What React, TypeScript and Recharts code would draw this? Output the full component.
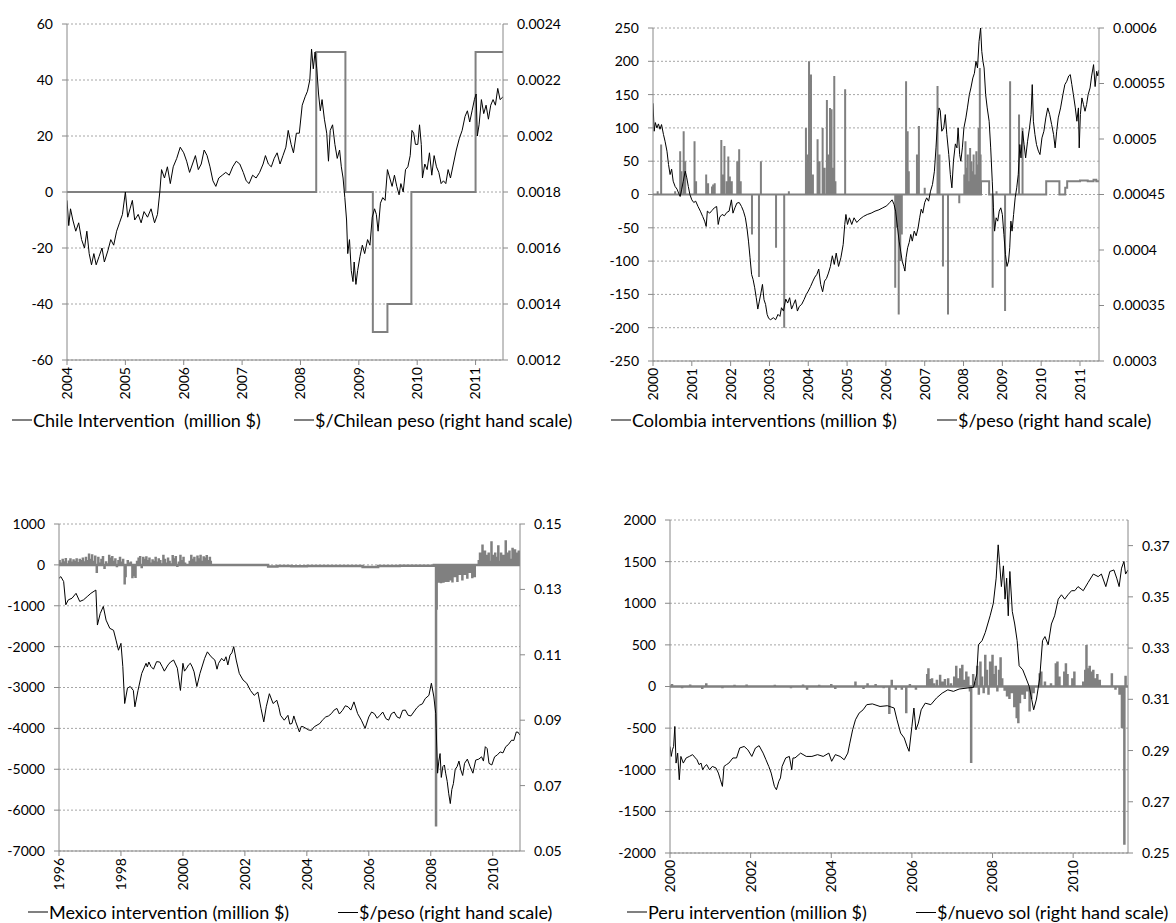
import { CartesianGrid, ComposedChart, Line, XAxis, YAxis } from 'recharts';

type Pt = [number, number];
type Row = { t: number; v?: number; r?: number };

// ---------- Chile ----------
const chileYears = [2004, 2005, 2006, 2007, 2008, 2009, 2010, 2011];
const chileLeftTicks = [-60, -40, -20, 0, 20, 40, 60];
const chileRightTicks = [0.0012, 0.0014, 0.0016, 0.0018, 0.002, 0.0022, 0.0024];
// intervention level changes (million $)
const chileLevels: Pt[] = [
    [2008.27, 50], [2008.77, 0], [2009.24, -50], [2009.49, -40], [2009.9, 0], [2011.0, 50],
];
// $/Chilean peso
const chileRate: Pt[] = [
    [2004.0, 0.00177], [2004.03, 0.00168], [2004.06, 0.00174], [2004.1, 0.0017], [2004.15, 0.00166],
    [2004.2, 0.00169], [2004.25, 0.00163], [2004.3, 0.0016], [2004.34, 0.00166], [2004.38, 0.00158],
    [2004.42, 0.00154], [2004.46, 0.00158], [2004.5, 0.00154], [2004.55, 0.00157], [2004.6, 0.0016],
    [2004.64, 0.00155], [2004.7, 0.00159], [2004.75, 0.00163], [2004.8, 0.00161], [2004.85, 0.00166],
    [2004.9, 0.00169], [2004.95, 0.00172], [2005.0, 0.0018], [2005.04, 0.00171], [2005.08, 0.00174],
    [2005.12, 0.00177], [2005.16, 0.0017], [2005.22, 0.00172], [2005.27, 0.00169], [2005.32, 0.00173],
    [2005.38, 0.00171], [2005.44, 0.00174], [2005.5, 0.00169], [2005.55, 0.00172], [2005.59, 0.0018],
    [2005.62, 0.00188], [2005.67, 0.00185], [2005.72, 0.00189], [2005.77, 0.00183], [2005.82, 0.00189],
    [2005.88, 0.00192], [2005.94, 0.00196], [2006.0, 0.00194], [2006.05, 0.00191], [2006.1, 0.00187],
    [2006.15, 0.0019], [2006.2, 0.00193], [2006.25, 0.00188], [2006.3, 0.0019], [2006.35, 0.00195],
    [2006.4, 0.00193], [2006.45, 0.00189], [2006.5, 0.00184], [2006.55, 0.00182], [2006.6, 0.00185],
    [2006.66, 0.00186], [2006.72, 0.00187], [2006.78, 0.00186], [2006.84, 0.00189], [2006.9, 0.00191],
    [2006.96, 0.0019], [2007.02, 0.00187], [2007.07, 0.00184], [2007.12, 0.00183], [2007.18, 0.00186],
    [2007.24, 0.00185], [2007.3, 0.00187], [2007.36, 0.0019], [2007.4, 0.00193], [2007.45, 0.0019],
    [2007.5, 0.00189], [2007.55, 0.00192], [2007.6, 0.00194], [2007.65, 0.0019], [2007.7, 0.00193],
    [2007.75, 0.00196], [2007.79, 0.00202], [2007.84, 0.00197], [2007.88, 0.00194], [2007.93, 0.00201],
    [2007.98, 0.00201], [2008.03, 0.00211], [2008.08, 0.00214], [2008.12, 0.00216], [2008.16, 0.0022],
    [2008.19, 0.00231], [2008.22, 0.00224], [2008.25, 0.0023], [2008.28, 0.00224], [2008.31, 0.00215],
    [2008.34, 0.00209], [2008.37, 0.00213], [2008.41, 0.00206], [2008.45, 0.00201], [2008.48, 0.00191],
    [2008.51, 0.00202], [2008.55, 0.00204], [2008.59, 0.00197], [2008.63, 0.00192], [2008.67, 0.00195],
    [2008.7, 0.00189], [2008.73, 0.00185], [2008.76, 0.00178], [2008.79, 0.0017], [2008.81, 0.00158],
    [2008.84, 0.00163], [2008.87, 0.00152], [2008.9, 0.00148], [2008.92, 0.00155], [2008.95, 0.00147],
    [2008.98, 0.00152], [2009.02, 0.00157], [2009.06, 0.00161], [2009.1, 0.00158], [2009.15, 0.00163],
    [2009.19, 0.00161], [2009.23, 0.00171], [2009.27, 0.00174], [2009.3, 0.00172], [2009.33, 0.00166],
    [2009.37, 0.00176], [2009.41, 0.00178], [2009.45, 0.00177], [2009.49, 0.00188], [2009.53, 0.00185],
    [2009.57, 0.00182], [2009.61, 0.00186], [2009.65, 0.00182], [2009.69, 0.00179], [2009.72, 0.00183],
    [2009.76, 0.0018], [2009.8, 0.00188], [2009.84, 0.00189], [2009.88, 0.00193], [2009.91, 0.00202],
    [2009.94, 0.00201], [2009.97, 0.00197], [2010.01, 0.00197], [2010.04, 0.00204], [2010.07, 0.00197],
    [2010.09, 0.00185], [2010.13, 0.0019], [2010.17, 0.00188], [2010.21, 0.00194], [2010.25, 0.00186],
    [2010.29, 0.00193], [2010.33, 0.00189], [2010.37, 0.00187], [2010.41, 0.00183], [2010.45, 0.00184],
    [2010.49, 0.00183], [2010.53, 0.00188], [2010.57, 0.00185], [2010.62, 0.0019], [2010.67, 0.00195],
    [2010.72, 0.00199], [2010.77, 0.00202], [2010.82, 0.00207], [2010.86, 0.00209], [2010.9, 0.00205],
    [2010.94, 0.00209], [2010.98, 0.00213], [2011.01, 0.00215], [2011.03, 0.002], [2011.06, 0.00204],
    [2011.1, 0.00213], [2011.14, 0.00208], [2011.18, 0.00211], [2011.22, 0.00206], [2011.26, 0.00211],
    [2011.3, 0.00213], [2011.34, 0.00211], [2011.38, 0.00217], [2011.42, 0.00213], [2011.47, 0.00214],
];

// ---------- Colombia ----------
const colYears = [2000, 2001, 2002, 2003, 2004, 2005, 2006, 2007, 2008, 2009, 2010, 2011];
const colLeftTicks = [-250, -200, -150, -100, -50, 0, 50, 100, 150, 200, 250];
const colRightTicks = [0.0003, 0.00035, 0.0004, 0.00045, 0.0005, 0.00055, 0.0006];
const colLevels: Pt[] = [
    [2008.45, 20], [2008.66, 0], [2010.13, 20], [2010.47, 0], [2010.62, 10], [2010.67, 20],
    [2011.0, 21], [2011.2, 20], [2011.35, 22], [2011.42, 20],
];
const colSpikes: Pt[] = [
    [2000.12, 5], [2000.21, 75], [2000.57, 5], [2000.7, 65], [2000.73, 35], [2000.79, 95], [2000.83, 50],
    [2001.07, 80], [2001.11, 20], [2001.37, 30], [2001.42, 17], [2001.52, 12], [2001.55, 15], [2001.59, 17],
    [2001.76, 82], [2001.8, 30], [2001.84, 73], [2001.9, 20], [2001.94, 57], [2001.98, 27], [2002.03, 20],
    [2002.17, 50], [2002.22, 68], [2002.26, 20], [2002.55, -60], [2002.73, -124], [2002.78, 50],
    [2003.17, -80], [2003.38, -200], [2003.5, 5], [2003.94, 100], [2003.98, 60], [2004.02, 200],
    [2004.07, 180], [2004.12, 30], [2004.24, 83], [2004.29, 50], [2004.37, 100], [2004.42, 40],
    [2004.48, 142], [2004.52, 60], [2004.56, 130], [2004.6, 128], [2004.63, 40], [2004.67, 178],
    [2004.7, 20], [2004.95, 158], [2006.24, -140], [2006.28, -50], [2006.33, -180], [2006.37, -100],
    [2006.41, -60], [2006.52, 170], [2006.56, 95], [2006.59, 35], [2006.8, 60], [2006.85, 103],
    [2007.0, 10], [2007.33, 163], [2007.38, 60], [2007.47, -108], [2007.6, -180], [2007.89, -13],
    [2008.02, 30], [2008.05, 80], [2008.08, 40], [2008.11, 60], [2008.14, 20], [2008.17, 70],
    [2008.2, 50], [2008.23, 35], [2008.26, 60], [2008.29, 30], [2008.33, 65], [2008.36, 45],
    [2008.39, 100], [2008.42, 190], [2008.44, 60], [2008.75, -140], [2008.85, 5], [2009.07, -175],
    [2009.2, 170], [2009.43, 120], [2009.52, 100],
];
const colRate: Pt[] = [
    [2000.0, 0.0005322], [2000.03, 0.000507], [2000.06, 0.0005148], [2000.1, 0.00051], [2000.14, 0.0005136],
    [2000.18, 0.0005088], [2000.22, 0.000513], [2000.27, 0.000504], [2000.31, 0.000498], [2000.36, 0.000489],
    [2000.4, 0.000477], [2000.44, 0.000468], [2000.48, 0.0004728], [2000.52, 0.000462], [2000.57, 0.0004572],
    [2000.62, 0.0004548], [2000.66, 0.0004512], [2000.7, 0.0004482], [2000.74, 0.0004548], [2000.78, 0.000462],
    [2000.83, 0.000471], [2000.87, 0.000465], [2000.91, 0.0004572], [2000.95, 0.00045], [2001.0, 0.0004452],
    [2001.05, 0.0004428], [2001.1, 0.000444], [2001.16, 0.0004392], [2001.22, 0.000435], [2001.28, 0.0004302],
    [2001.33, 0.000426], [2001.37, 0.0004212], [2001.4, 0.000435], [2001.46, 0.0004332], [2001.52, 0.0004356],
    [2001.58, 0.000438], [2001.64, 0.0004392], [2001.68, 0.000423], [2001.72, 0.0004296], [2001.78, 0.000432],
    [2001.84, 0.0004308], [2001.9, 0.0004338], [2001.96, 0.000435], [2002.02, 0.0004452], [2002.06, 0.0004332],
    [2002.11, 0.000438], [2002.16, 0.0004422], [2002.22, 0.0004428], [2002.28, 0.0004392], [2002.33, 0.000435],
    [2002.38, 0.000429], [2002.42, 0.00042], [2002.46, 0.000408], [2002.5, 0.000393], [2002.54, 0.000378],
    [2002.58, 0.0003732], [2002.62, 0.000366], [2002.66, 0.000357], [2002.7, 0.0003468], [2002.74, 0.000354],
    [2002.78, 0.0003612], [2002.82, 0.000369], [2002.86, 0.0003552], [2002.9, 0.000351], [2002.94, 0.000342],
    [2002.98, 0.0003384], [2003.03, 0.0003372], [2003.1, 0.000339], [2003.16, 0.0003372], [2003.22, 0.000342],
    [2003.27, 0.0003402], [2003.31, 0.000348], [2003.36, 0.000345], [2003.42, 0.0003558], [2003.47, 0.0003522],
    [2003.52, 0.000357], [2003.57, 0.0003468], [2003.62, 0.000351], [2003.67, 0.0003552], [2003.72, 0.000345],
    [2003.77, 0.0003492], [2003.83, 0.000351], [2003.89, 0.0003552], [2003.95, 0.00036], [2004.0, 0.000363],
    [2004.06, 0.0003672], [2004.12, 0.000372], [2004.17, 0.0003756], [2004.22, 0.000378], [2004.27, 0.0003828],
    [2004.32, 0.000369], [2004.37, 0.0003624], [2004.42, 0.000372], [2004.47, 0.0003744], [2004.52, 0.0003792],
    [2004.57, 0.0003852], [2004.62, 0.0003948], [2004.67, 0.000387], [2004.72, 0.0003972], [2004.78, 0.0003852],
    [2004.84, 0.000393], [2004.9, 0.000405], [2004.94, 0.000423], [2004.97, 0.000432], [2005.01, 0.000423],
    [2005.06, 0.000429], [2005.12, 0.000423], [2005.18, 0.000429], [2005.25, 0.0004248], [2005.33, 0.0004278],
    [2005.42, 0.0004302], [2005.52, 0.000432], [2005.62, 0.0004332], [2005.72, 0.000435], [2005.82, 0.0004362],
    [2005.92, 0.000438], [2006.02, 0.0004398], [2006.1, 0.0004428], [2006.16, 0.0004452], [2006.21, 0.000441],
    [2006.25, 0.000435], [2006.3, 0.00042], [2006.34, 0.000408], [2006.38, 0.000399], [2006.42, 0.00039],
    [2006.46, 0.0003852], [2006.49, 0.000381], [2006.52, 0.000393], [2006.56, 0.000402], [2006.6, 0.0004068],
    [2006.64, 0.000414], [2006.68, 0.000408], [2006.73, 0.000417], [2006.78, 0.0004128], [2006.83, 0.00042],
    [2006.87, 0.000429], [2006.91, 0.0004368], [2006.95, 0.0004332], [2007.0, 0.0004428], [2007.05, 0.000447],
    [2007.1, 0.000444], [2007.15, 0.000453], [2007.2, 0.000459], [2007.25, 0.000471], [2007.29, 0.000492],
    [2007.33, 0.000516], [2007.37, 0.000528], [2007.4, 0.0005256], [2007.44, 0.000507], [2007.49, 0.00051],
    [2007.53, 0.000522], [2007.57, 0.000504], [2007.62, 0.000486], [2007.66, 0.000468], [2007.7, 0.000456],
    [2007.74, 0.00048], [2007.79, 0.0004956], [2007.83, 0.000492], [2007.86, 0.00051], [2007.9, 0.000486],
    [2007.93, 0.00048], [2007.97, 0.000492], [2008.01, 0.00051], [2008.06, 0.000519], [2008.1, 0.000528],
    [2008.15, 0.00054], [2008.19, 0.000546], [2008.24, 0.000555], [2008.28, 0.0005592], [2008.32, 0.00057],
    [2008.36, 0.000564], [2008.4, 0.000588], [2008.44, 0.0006], [2008.47, 0.000579], [2008.5, 0.00057],
    [2008.53, 0.000564], [2008.57, 0.00054], [2008.61, 0.000528], [2008.66, 0.000516], [2008.7, 0.000492],
    [2008.74, 0.000462], [2008.77, 0.000438], [2008.8, 0.000417], [2008.84, 0.000429], [2008.88, 0.000426],
    [2008.92, 0.000435], [2008.96, 0.000438], [2009.0, 0.000432], [2009.04, 0.000414], [2009.08, 0.000396],
    [2009.12, 0.0003852], [2009.16, 0.00039], [2009.19, 0.000402], [2009.22, 0.000426], [2009.25, 0.000417],
    [2009.29, 0.000432], [2009.33, 0.000447], [2009.37, 0.000456], [2009.41, 0.000468], [2009.45, 0.000495],
    [2009.48, 0.000483], [2009.52, 0.000507], [2009.56, 0.000495], [2009.6, 0.000483], [2009.65, 0.000498],
    [2009.7, 0.00051], [2009.74, 0.000522], [2009.77, 0.000549], [2009.8, 0.000516], [2009.84, 0.000504],
    [2009.88, 0.000495], [2009.93, 0.000489], [2009.97, 0.000486], [2010.02, 0.000501], [2010.07, 0.000507],
    [2010.12, 0.000519], [2010.17, 0.000528], [2010.22, 0.000522], [2010.27, 0.000513], [2010.32, 0.000504],
    [2010.36, 0.000492], [2010.4, 0.000507], [2010.44, 0.000519], [2010.5, 0.000528], [2010.56, 0.00054],
    [2010.61, 0.000549], [2010.66, 0.000552], [2010.71, 0.0005568], [2010.75, 0.000558], [2010.79, 0.000549],
    [2010.83, 0.00054], [2010.88, 0.000528], [2010.92, 0.000516], [2010.96, 0.000528], [2010.98, 0.000492],
    [2011.01, 0.000522], [2011.05, 0.000537], [2011.09, 0.000531], [2011.13, 0.000525], [2011.17, 0.000531],
    [2011.21, 0.00054], [2011.26, 0.000546], [2011.3, 0.0005568], [2011.35, 0.000567], [2011.39, 0.0005472],
    [2011.43, 0.000561], [2011.46, 0.0005568], [2011.49, 0.0005622],
];

// ---------- Mexico ----------
const mexYears = [1996, 1998, 2000, 2002, 2004, 2006, 2008, 2010];
const mexLeftTicks = [-7000, -6000, -5000, -4000, -3000, -2000, -1000, 0, 1000];
const mexRightTicks = [0.05, 0.07, 0.09, 0.11, 0.13, 0.15];
const mexLevels: Pt[] = [
    [2002.75, -40], [2003.05, -25], [2003.5, -35], [2004.0, -30], [2005.8, -50], [2006.3, -30],
    [2007.0, -20], [2008.1, 0], [2009.45, 0],
];
const mexSpikes: Pt[] = [
    [1996.02, 120], [1996.07, 60], [1996.12, 150], [1996.17, 90], [1996.22, 170], [1996.27, 40],
    [1996.32, 110], [1996.37, 160], [1996.42, 80], [1996.47, 140], [1996.52, 100], [1996.57, 160],
    [1996.62, 70], [1996.67, 150], [1996.72, 120], [1996.77, 180], [1996.82, 90], [1996.87, 200],
    [1996.92, 120], [1996.97, 280], [1997.02, 150], [1997.07, 260], [1997.12, 100], [1997.17, 230],
    [1997.22, -200], [1997.27, 200], [1997.32, 60], [1997.37, 150], [1997.42, 220], [1997.47, -100],
    [1997.52, 90], [1997.57, 40], [1997.62, 250], [1997.67, 180], [1997.72, 220], [1997.77, 100],
    [1997.82, 160], [1997.87, -60], [1997.92, 120], [1997.97, 200], [1998.02, 80], [1998.07, 150],
    [1998.12, -480], [1998.15, -300], [1998.22, 120], [1998.27, 60], [1998.32, 80], [1998.37, -330],
    [1998.42, -280], [1998.47, -320], [1998.52, 100], [1998.57, 180], [1998.62, 220], [1998.67, -80],
    [1998.72, 200], [1998.77, 150], [1998.82, 210], [1998.87, 120], [1998.92, 180], [1998.97, 60],
    [1999.02, 140], [1999.07, 100], [1999.12, 200], [1999.17, 80], [1999.22, 160], [1999.27, 120],
    [1999.32, 40], [1999.37, 250], [1999.42, 150], [1999.47, 60], [1999.52, 180], [1999.57, 100],
    [1999.62, 40], [1999.67, 240], [1999.72, 160], [1999.77, 220], [1999.82, -50], [1999.87, 80],
    [1999.92, 250], [1999.97, 120], [2000.02, 200], [2000.07, 60], [2000.12, 30], [2000.22, 100],
    [2000.27, 250], [2000.32, 150], [2000.37, 200], [2000.42, 80], [2000.47, 230], [2000.52, 160],
    [2000.57, 250], [2000.62, 100], [2000.67, 210], [2000.72, 180], [2000.77, 240], [2000.82, 120],
    [2000.87, 200], [2000.9, 100],
    [2008.17, -6400], [2008.19, -1100], [2008.21, -420], [2008.23, -300], [2008.25, -440], [2008.27, -380],
    [2008.29, -420], [2008.31, -300], [2008.33, -450], [2008.35, -350], [2008.37, -420], [2008.39, -320],
    [2008.41, -440], [2008.43, -360], [2008.45, -400], [2008.47, -300], [2008.49, -420], [2008.51, -350],
    [2008.53, -400], [2008.55, -250], [2008.57, -420], [2008.6, -200], [2008.63, -380], [2008.66, -150],
    [2008.7, -430], [2008.74, -120], [2008.78, -300], [2008.82, -100], [2008.86, -420], [2008.9, -150],
    [2008.94, -250], [2008.98, -100], [2009.02, -380], [2009.06, -120], [2009.1, -250], [2009.14, -100],
    [2009.18, -340], [2009.22, -120], [2009.26, -200], [2009.3, -100], [2009.34, -330], [2009.38, -120],
    [2009.42, -300],
    [2009.55, 120], [2009.59, 300], [2009.63, 200], [2009.67, 500], [2009.71, 150], [2009.75, 350],
    [2009.79, 250], [2009.83, 200], [2009.87, 300], [2009.91, 100], [2009.96, 580], [2010.0, 250],
    [2010.04, 150], [2010.08, 300], [2010.12, 200], [2010.18, 480], [2010.22, 100], [2010.27, 300],
    [2010.31, 200], [2010.35, 250], [2010.42, 600], [2010.46, 300], [2010.5, 250], [2010.54, 350],
    [2010.58, 150], [2010.64, 420], [2010.68, 250], [2010.72, 380], [2010.76, 200], [2010.8, 300],
    [2010.84, 350], [2010.87, 250],
];
const mexRate: Pt[] = [
    [1996.0, 0.1334], [1996.06, 0.1339], [1996.15, 0.1324], [1996.22, 0.1253], [1996.3, 0.1268],
    [1996.42, 0.1273], [1996.55, 0.1288], [1996.67, 0.1263], [1996.79, 0.1268], [1996.91, 0.1278],
    [1997.03, 0.1288], [1997.19, 0.1298], [1997.24, 0.1191], [1997.33, 0.1226], [1997.43, 0.1248],
    [1997.52, 0.1206], [1997.64, 0.1181], [1997.76, 0.1175], [1997.84, 0.1145], [1997.92, 0.1114],
    [1998.0, 0.1135], [1998.06, 0.1064], [1998.12, 0.0951], [1998.21, 0.0998], [1998.3, 0.1003],
    [1998.4, 0.0991], [1998.45, 0.0941], [1998.55, 0.0991], [1998.67, 0.1043], [1998.81, 0.1074],
    [1998.85, 0.1063], [1998.9, 0.1078], [1998.97, 0.1064], [1999.05, 0.1056], [1999.15, 0.1079],
    [1999.25, 0.1078], [1999.33, 0.1064], [1999.4, 0.105], [1999.52, 0.1069], [1999.6, 0.1078],
    [1999.7, 0.1084], [1999.82, 0.1059], [1999.92, 0.0991], [2000.0, 0.1074], [2000.05, 0.105],
    [2000.12, 0.1059], [2000.18, 0.1069], [2000.24, 0.1074], [2000.3, 0.1063], [2000.36, 0.1048],
    [2000.45, 0.1003], [2000.55, 0.1043], [2000.7, 0.1089], [2000.79, 0.1109], [2000.91, 0.1094],
    [2001.03, 0.1084], [2001.1, 0.1056], [2001.15, 0.1074], [2001.25, 0.1089], [2001.33, 0.1081],
    [2001.39, 0.1094], [2001.45, 0.1069], [2001.52, 0.1099], [2001.58, 0.1106], [2001.64, 0.1125],
    [2001.72, 0.1084], [2001.82, 0.1043], [2001.94, 0.1023], [2002.06, 0.1013], [2002.18, 0.0991],
    [2002.3, 0.0976], [2002.42, 0.0986], [2002.52, 0.0936], [2002.61, 0.0895], [2002.69, 0.0941],
    [2002.79, 0.0981], [2002.91, 0.0951], [2003.03, 0.0961], [2003.1, 0.0938], [2003.15, 0.0915],
    [2003.27, 0.09], [2003.39, 0.0915], [2003.45, 0.0888], [2003.52, 0.089], [2003.58, 0.0913],
    [2003.64, 0.0895], [2003.76, 0.0864], [2003.82, 0.0881], [2003.88, 0.088], [2004.06, 0.087],
    [2004.15, 0.0869], [2004.24, 0.088], [2004.42, 0.089], [2004.5, 0.09], [2004.61, 0.091],
    [2004.7, 0.0913], [2004.79, 0.092], [2004.88, 0.0931], [2004.97, 0.0936], [2005.05, 0.0919],
    [2005.15, 0.093], [2005.24, 0.0944], [2005.33, 0.0941], [2005.42, 0.0931], [2005.52, 0.0956],
    [2005.64, 0.092], [2005.76, 0.09], [2005.88, 0.0875], [2006.0, 0.091], [2006.09, 0.0925],
    [2006.18, 0.092], [2006.27, 0.0906], [2006.36, 0.0915], [2006.45, 0.0925], [2006.55, 0.0905],
    [2006.64, 0.09], [2006.73, 0.092], [2006.82, 0.0925], [2006.91, 0.091], [2007.0, 0.0906],
    [2007.09, 0.093], [2007.18, 0.0931], [2007.27, 0.0915], [2007.36, 0.0913], [2007.45, 0.0925],
    [2007.55, 0.0938], [2007.64, 0.0946], [2007.73, 0.095], [2007.82, 0.0966], [2007.94, 0.0976],
    [2008.02, 0.1013], [2008.1, 0.0971], [2008.16, 0.092], [2008.22, 0.0738], [2008.26, 0.0775],
    [2008.3, 0.0798], [2008.34, 0.0725], [2008.39, 0.0758], [2008.44, 0.0763], [2008.48, 0.0738],
    [2008.53, 0.0713], [2008.58, 0.0675], [2008.63, 0.0645], [2008.68, 0.0688], [2008.73, 0.0706],
    [2008.79, 0.075], [2008.85, 0.0758], [2008.91, 0.0775], [2008.97, 0.0748], [2009.03, 0.0731],
    [2009.09, 0.0768], [2009.18, 0.0781], [2009.27, 0.0758], [2009.36, 0.0738], [2009.45, 0.0778],
    [2009.55, 0.0781], [2009.64, 0.0788], [2009.7, 0.0775], [2009.76, 0.0819], [2009.82, 0.0813],
    [2009.88, 0.0768], [2009.97, 0.0763], [2010.06, 0.0788], [2010.15, 0.0794], [2010.24, 0.0803],
    [2010.33, 0.08], [2010.42, 0.0819], [2010.5, 0.0825], [2010.61, 0.0839], [2010.68, 0.0838],
    [2010.76, 0.0864], [2010.82, 0.0863], [2010.88, 0.0854],
];

// ---------- Peru ----------
const peruYears = [2000, 2002, 2004, 2006, 2008, 2010];
const peruLeftTicks = [-2000, -1500, -1000, -500, 0, 500, 1000, 1500, 2000];
const peruRightTicks = [0.25, 0.27, 0.29, 0.31, 0.33, 0.35, 0.37];
const peruSpikes: Pt[] = [
    [2000.05, 30], [2000.3, -20], [2000.5, 25], [2000.8, -30], [2000.9, 40], [2001.3, -20], [2001.6, 20],
    [2001.9, 25], [2002.2, -15], [2002.6, 20], [2003.0, -20], [2003.3, 25], [2003.4, -40], [2003.7, 20],
    [2004.0, 30], [2004.1, -30], [2004.3, 15], [2004.6, 60], [2004.8, -30], [2004.9, 40], [2005.1, 30],
    [2005.3, -20], [2005.44, -330], [2005.5, 80], [2005.6, -40], [2005.75, -40], [2005.86, -320],
    [2005.95, 30], [2006.1, -40], [2006.38, 150], [2006.41, 220], [2006.45, 90], [2006.5, 100],
    [2006.55, 40], [2006.62, 80], [2006.7, 140], [2006.76, 60], [2006.82, 90], [2006.9, 100],
    [2006.97, 40], [2007.05, 120], [2007.1, 250], [2007.15, 100], [2007.2, 220], [2007.25, 260],
    [2007.3, 80], [2007.35, 180], [2007.4, 120], [2007.44, -60], [2007.47, -920], [2007.52, 150],
    [2007.57, 60], [2007.62, 250], [2007.66, -100], [2007.7, 300], [2007.74, 120], [2007.78, -80],
    [2007.82, 380], [2007.86, 200], [2007.9, -100], [2007.94, 300], [2008.0, 380], [2008.04, 150],
    [2008.08, 250], [2008.12, -60], [2008.16, 200], [2008.2, 350], [2008.24, 100], [2008.3, -50],
    [2008.36, -120], [2008.42, -150], [2008.48, -80], [2008.54, -250], [2008.6, -380], [2008.64, -440],
    [2008.68, -200], [2008.74, -100], [2008.8, -150], [2008.86, -60], [2008.92, -300], [2008.96, -150],
    [2009.02, -80], [2009.17, 160], [2009.21, 180], [2009.3, 60], [2009.45, 40], [2009.57, 280],
    [2009.61, 300], [2009.66, 120], [2009.78, 180], [2009.82, 280], [2009.86, 150], [2009.98, 100],
    [2010.03, 180], [2010.25, 60], [2010.3, 200], [2010.33, 500], [2010.37, 220], [2010.41, 250],
    [2010.45, 180], [2010.5, 200], [2010.55, 100], [2010.6, 150], [2010.66, 80], [2010.96, 160],
    [2011.05, -40], [2011.15, -100], [2011.21, -500], [2011.24, -300], [2011.27, -1900], [2011.3, 130],
];
const peruRate: Pt[] = [
    [2000.0, 0.2916], [2000.03, 0.2877], [2000.06, 0.2903], [2000.09, 0.2916], [2000.12, 0.2994],
    [2000.15, 0.2851], [2000.19, 0.289], [2000.23, 0.2786], [2000.27, 0.2877], [2000.33, 0.2851],
    [2000.4, 0.2871], [2000.48, 0.2877], [2000.56, 0.2884], [2000.63, 0.2871], [2000.67, 0.2864],
    [2000.72, 0.2845], [2000.77, 0.2851], [2000.81, 0.2825], [2000.86, 0.2838], [2000.91, 0.2845],
    [2000.98, 0.2825], [2001.05, 0.2838], [2001.14, 0.2832], [2001.2, 0.2812], [2001.25, 0.2786],
    [2001.3, 0.276], [2001.34, 0.2838], [2001.4, 0.2845], [2001.46, 0.2851], [2001.56, 0.2871],
    [2001.65, 0.2871], [2001.73, 0.291], [2001.84, 0.2916], [2001.93, 0.2903], [2002.03, 0.2877],
    [2002.12, 0.291], [2002.21, 0.2919], [2002.31, 0.289], [2002.38, 0.2864], [2002.45, 0.2838],
    [2002.51, 0.2812], [2002.59, 0.276], [2002.64, 0.2747], [2002.7, 0.278], [2002.74, 0.2793],
    [2002.78, 0.2838], [2002.87, 0.2871], [2002.96, 0.2877], [2003.02, 0.2825], [2003.05, 0.2871],
    [2003.1, 0.2871], [2003.24, 0.289], [2003.38, 0.2877], [2003.52, 0.2877], [2003.66, 0.2884],
    [2003.8, 0.2877], [2003.94, 0.289], [2004.01, 0.2858], [2004.1, 0.2884], [2004.22, 0.2877],
    [2004.32, 0.2864], [2004.41, 0.289], [2004.46, 0.2929], [2004.53, 0.2981], [2004.6, 0.302],
    [2004.69, 0.3046], [2004.79, 0.3059], [2004.88, 0.3079], [2005.02, 0.3082], [2005.21, 0.3072],
    [2005.39, 0.3075], [2005.56, 0.3066], [2005.63, 0.302], [2005.72, 0.2968], [2005.81, 0.2949],
    [2005.88, 0.2916], [2005.93, 0.2897], [2006.0, 0.2994], [2006.05, 0.3066], [2006.1, 0.2981],
    [2006.16, 0.3007], [2006.23, 0.3059], [2006.33, 0.3085], [2006.47, 0.3079], [2006.61, 0.3105],
    [2006.75, 0.3124], [2006.89, 0.3137], [2007.03, 0.3131], [2007.17, 0.314], [2007.37, 0.3144],
    [2007.53, 0.3147], [2007.61, 0.3199], [2007.65, 0.3313], [2007.74, 0.3329], [2007.82, 0.3361],
    [2007.94, 0.3426], [2008.02, 0.3475], [2008.09, 0.3573], [2008.14, 0.3703], [2008.18, 0.3621],
    [2008.22, 0.354], [2008.27, 0.3621], [2008.31, 0.3491], [2008.35, 0.3573], [2008.39, 0.3426],
    [2008.43, 0.3599], [2008.49, 0.3443], [2008.55, 0.3394], [2008.61, 0.3329], [2008.66, 0.3231],
    [2008.75, 0.3215], [2008.83, 0.3183], [2008.91, 0.315], [2008.97, 0.3101], [2009.02, 0.3059],
    [2009.09, 0.3101], [2009.17, 0.3183], [2009.24, 0.3329], [2009.3, 0.3345], [2009.38, 0.3313],
    [2009.46, 0.3394], [2009.54, 0.3426], [2009.63, 0.3491], [2009.71, 0.3508], [2009.79, 0.3491],
    [2009.87, 0.3508], [2009.96, 0.3524], [2010.04, 0.3524], [2010.12, 0.354], [2010.25, 0.3524],
    [2010.37, 0.3556], [2010.5, 0.3589], [2010.62, 0.3579], [2010.7, 0.3589], [2010.81, 0.354],
    [2010.91, 0.3599], [2011.01, 0.3605], [2011.08, 0.3573], [2011.14, 0.354], [2011.2, 0.3612],
    [2011.26, 0.3638], [2011.3, 0.3589], [2011.36, 0.3605],
];

// daily intervention series: flat at the current level, with one-day spikes
function interventionRows(start: number, end: number, levels: Pt[], spikes: Pt[]): Row[] {
    const events = [
        ...levels.map(([t, v]) => ({ t, v, step: true })),
        ...spikes.map(([t, v]) => ({ t, v, step: false })),
    ].sort((a, b) => a.t - b.t);
    let base = 0;
    const rows: Row[] = [{ t: start, v: 0 }];
    for (const e of events) {
        if (e.step) {
            rows.push({ t: e.t, v: base });
            base = e.v;
            rows.push({ t: e.t, v: base });
        } else {
            rows.push({ t: e.t, v: base }, { t: e.t, v: e.v }, { t: e.t, v: base });
        }
    }
    rows.push({ t: end, v: base });
    return rows;
}

const rateRows = (pts: Pt[]): Row[] => pts.map(([t, r]) => ({ t, r }));

const fmtRate = (v: number) => String(+v.toFixed(5));

const AXIS = '#888888';
const GRAY = '#808080';

function YearTick(props: any) {
    const { x, y, payload } = props;
    return (
        <text
            x={x}
            y={y}
            transform={`rotate(-90 ${x} ${y})`}
            textAnchor="end"
            dy="0.35em"
            fontSize={14}
            fill="#000"
        >
            {payload.value}
        </text>
    );
}

type PanelProps = {
    left: number;
    top: number;
    width: number;
    height: number;
    marginTop: number;
    leftWidth: number;
    rightWidth: number;
    xHeight: number;
    xDomain: [number, number];
    xTicks: number[];
    yDomain: [number, number];
    yTicks: number[];
    rDomain: [number, number];
    rTicks: number[];
    intervention: Row[];
    rate: Row[];
    grayWidth: number;
};

function Panel(p: PanelProps) {
    return (
        <div style={{ position: 'absolute', left: p.left, top: p.top }}>
            <ComposedChart
                width={p.width}
                height={p.height}
                margin={{ top: p.marginTop, right: 0, bottom: 0, left: 0 }}
            >
                <CartesianGrid
                    yAxisId="left"
                    vertical={false}
                    stroke="#a6a6a6"
                    strokeDasharray="2 2"
                />
                <XAxis
                    type="number"
                    dataKey="t"
                    domain={p.xDomain}
                    ticks={p.xTicks}
                    interval={0}
                    allowDataOverflow
                    height={p.xHeight}
                    stroke={AXIS}
                    tickSize={5}
                    tickMargin={2}
                    tick={<YearTick />}
                />
                <YAxis
                    yAxisId="left"
                    domain={p.yDomain}
                    ticks={p.yTicks}
                    interval={0}
                    allowDataOverflow
                    width={p.leftWidth}
                    stroke={AXIS}
                    tickSize={5}
                    tickMargin={9}
                    tick={{ fill: '#000', fontSize: 14 }}
                />
                <YAxis
                    yAxisId="right"
                    orientation="right"
                    domain={p.rDomain}
                    ticks={p.rTicks}
                    interval={0}
                    allowDataOverflow
                    width={p.rightWidth}
                    stroke={AXIS}
                    tickSize={5}
                    tickMargin={9}
                    tickFormatter={fmtRate}
                    tick={{ fill: '#000', fontSize: 14, textAnchor: 'start' }}
                />
                <Line
                    yAxisId="left"
                    data={p.intervention}
                    dataKey="v"
                    type="linear"
                    stroke={GRAY}
                    strokeWidth={p.grayWidth}
                    dot={false}
                    isAnimationActive={false}
                />
                <Line
                    yAxisId="right"
                    data={p.rate}
                    dataKey="r"
                    type="linear"
                    stroke="#000"
                    strokeWidth={1}
                    dot={false}
                    isAnimationActive={false}
                />
            </ComposedChart>
        </div>
    );
}

type LegendItem = { x: number; label: string; color: string; lw: number };

function LegendRow({ y, items }: { y: number; items: LegendItem[] }) {
    return (
        <>
            {items.map((it) => (
                <div
                    key={it.label}
                    style={{
                        position: 'absolute',
                        left: it.x,
                        top: y - 11,
                        height: 22,
                        display: 'flex',
                        alignItems: 'center',
                        fontSize: 18,
                        whiteSpace: 'pre',
                        color: '#000',
                    }}
                >
                    <span
                        style={{
                            display: 'inline-block',
                            width: 20,
                            borderTop: `${it.lw}px solid ${it.color}`,
                            marginRight: 1,
                        }}
                    />
                    {it.label}
                </div>
            ))}
        </>
    );
}

export default function App() {
    return (
        <div
            style={{
                position: 'absolute',
                left: 0,
                top: 0,
                width: 1176,
                height: 923,
                background: '#fff',
                fontFamily: 'Lato, sans-serif',
            }}
        >
            <Panel
                left={0}
                top={0}
                width={600}
                height={410}
                marginTop={24}
                leftWidth={67}
                rightWidth={97}
                xHeight={50}
                xDomain={[2004, 2011.47]}
                xTicks={chileYears}
                yDomain={[-60, 60]}
                yTicks={chileLeftTicks}
                rDomain={[0.0012, 0.0024]}
                rTicks={chileRightTicks}
                intervention={interventionRows(2004, 2011.47, chileLevels, [])}
                rate={rateRows(chileRate)}
                grayWidth={2}
            />
            <Panel
                left={586}
                top={0}
                width={590}
                height={410}
                marginTop={28}
                leftWidth={67}
                rightWidth={77}
                xHeight={49}
                xDomain={[2000, 2011.49]}
                xTicks={colYears}
                yDomain={[-250, 250]}
                yTicks={colLeftTicks}
                rDomain={[0.0003, 0.0006]}
                rTicks={colRightTicks}
                intervention={interventionRows(2000, 2011.49, colLevels, colSpikes)}
                rate={rateRows(colRate)}
                grayWidth={2}
            />
            <Panel
                left={0}
                top={500}
                width={600}
                height={401}
                marginTop={24}
                leftWidth={59}
                rightWidth={80}
                xHeight={50}
                xDomain={[1996, 2010.88]}
                xTicks={mexYears}
                yDomain={[-7000, 1000]}
                yTicks={mexLeftTicks}
                rDomain={[0.05, 0.15]}
                rTicks={mexRightTicks}
                intervention={interventionRows(1996, 2010.88, mexLevels, mexSpikes)}
                rate={rateRows(mexRate)}
                grayWidth={2.5}
            />
            <Panel
                left={586}
                top={500}
                width={590}
                height={403}
                marginTop={20}
                leftWidth={84}
                rightWidth={48}
                xHeight={50}
                xDomain={[2000, 2011.36]}
                xTicks={peruYears}
                yDomain={[-2000, 2000]}
                yTicks={peruLeftTicks}
                rDomain={[0.25, 0.38]}
                rTicks={peruRightTicks}
                intervention={interventionRows(2000, 2011.36, [], peruSpikes)}
                rate={rateRows(peruRate)}
                grayWidth={2.5}
            />
            <LegendRow
                y={420}
                items={[
                    { x: 12, label: 'Chile Intervention  (million $)', color: GRAY, lw: 2 },
                    { x: 294, label: '$/Chilean peso (right hand scale)', color: GRAY, lw: 2 },
                ]}
            />
            <LegendRow
                y={420}
                items={[
                    { x: 611, label: 'Colombia interventions (million $)', color: GRAY, lw: 2 },
                    { x: 937, label: '$/peso (right hand scale)', color: GRAY, lw: 2 },
                ]}
            />
            <LegendRow
                y={912}
                items={[
                    { x: 28, label: 'Mexico intervention (million $)', color: GRAY, lw: 2 },
                    { x: 338, label: '$/peso (right hand scale)', color: '#000', lw: 1 },
                ]}
            />
            <LegendRow
                y={912}
                items={[
                    { x: 627, label: 'Peru intervention (million $)', color: GRAY, lw: 2 },
                    { x: 916, label: '$/nuevo sol (right hand scale)', color: '#000', lw: 1 },
                ]}
            />
        </div>
    );
}
